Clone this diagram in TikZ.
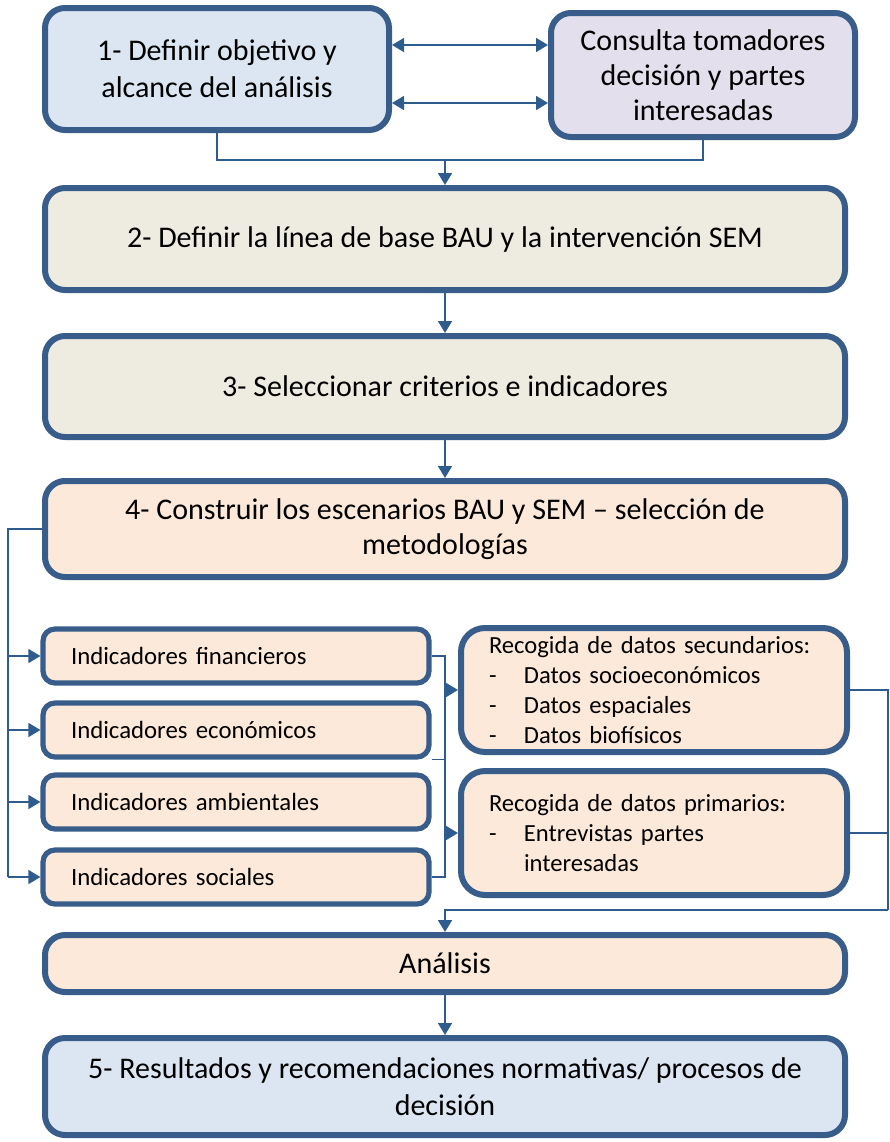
\documentclass[tikz,border=0pt]{standalone}
\usepackage{fontspec}
\setmainfont{Carlito}
\usepackage{tikz}
\usetikzlibrary{arrows.meta, positioning}

\definecolor{borde}{HTML}{385D8A}
\definecolor{linea}{HTML}{2E5C8E}
\definecolor{azul}{HTML}{DCE6F2}
\definecolor{lila}{HTML}{E4DFEC}
\definecolor{oliva}{HTML}{EEECE1}
\definecolor{salmon}{HTML}{FDE9D9}

\begin{document}
\begin{tikzpicture}[x=0.5pt, y=-0.5pt,
    caja/.style={draw=borde, line width=3pt, rounded corners=10pt, align=center,
      font=\fontsize{15}{18.5}\selectfont, inner sep=2pt},
    indic/.style={draw=borde, line width=2.6pt, rounded corners=6pt, fill=salmon,
      align=left, text width=165pt, inner xsep=14pt, minimum height=27pt,
      font=\fontsize{12.4}{15}\selectfont},
    datos/.style={draw=borde, line width=3pt, rounded corners=12pt, fill=salmon,
      align=left, text width=165pt, inner xsep=14pt, minimum height=62pt,
      font=\fontsize{12.3}{15}\selectfont},
    con/.style={draw=linea, line width=0.8pt},
    arr/.style={con, -{Triangle[width=7pt,length=6pt]}},
    dbl/.style={con, {Triangle[width=7pt,length=6pt]}-{Triangle[width=7pt,length=6pt]}}]
  \useasboundingbox (0,0) rectangle (890,1142);

  \node[caja, fill=azul, minimum width=172pt, minimum height=61pt] (def) at (217,69)
    {1- Definir objetivo y\\alcance del análisis};
  \node[caja, fill=lila, minimum width=152pt, minimum height=62pt,
    font=\fontsize{15}{17.5}\selectfont] (cons) at (703,75)
    {Consulta tomadores\\decisión y partes\\interesadas};
  \node[caja, fill=oliva, minimum width=400pt, minimum height=51pt] (base) at (445,239)
    {2- Definir la línea de base BAU y la intervención SEM};
  \node[caja, fill=oliva, minimum width=400pt, minimum height=50.5pt] (crit) at (445,386.5)
    {3- Seleccionar criterios e indicadores};
  \node[caja, fill=salmon, minimum width=400pt, minimum height=48pt,
    font=\fontsize{15}{17.5}\selectfont] (esc) at (445,529)
    {4- Construir los escenarios BAU y SEM -- selección de\\metodologías};

  \node[indic] (fin) at (236,656) {Indicadores financieros};
  \node[indic] (eco) at (236,730) {Indicadores económicos};
  \node[indic] (amb) at (236,802) {Indicadores ambientales};
  \node[indic] (soc) at (236,877) {Indicadores sociales};

  \node[datos] (sec) at (654,690) {Recogida de datos secundarios:\\
    \makebox[17.5pt][l]{-}Datos socioeconómicos\\
    \makebox[17.5pt][l]{-}Datos espaciales\\
    \makebox[17.5pt][l]{-}Datos biofísicos};
  \node[datos] (prim) at (654,833) {Recogida de datos primarios:\\
    \makebox[17.5pt][l]{-}Entrevistas partes\\
    \hspace*{17.5pt}interesadas};

  \node[caja, fill=salmon, minimum width=400pt, minimum height=28.5pt] (ana) at (445,963.5)
    {Análisis};
  \node[caja, fill=azul, minimum width=400pt, minimum height=48.5pt] (res) at (445,1086.5)
    {5- Resultados y recomendaciones normativas/ procesos de\\decisión};

  \coordinate (une) at (445,160);
  \coordinate (izq) at (8,530);
  \coordinate (mid) at (445,657);
  \coordinate (der) at (888,910);

  \draw[dbl] ([yshift=12pt]def.east) -- ([yshift=12pt]def.east -| cons.west);
  \draw[dbl] ([yshift=-17pt]def.east) -- ([yshift=-17pt]def.east -| cons.west);
  \draw[con] (def.south) |- (une) -| (cons.south);
  \draw[arr] (une) -- (base.north);
  \draw[arr] (base.south) -- (crit.north);
  \draw[arr] (crit.south) -- (esc.north);

  \draw[con] (esc.west) -- (izq |- esc.west) -- (izq |- soc.west);
  \foreach \n in {fin, eco, amb, soc}
    \draw[arr] (izq |- \n.west) -- (\n.west);

  \draw[con] (fin.east) -- (fin.east -| mid) -- (mid |- soc.east) -- (soc.east);
  \draw[con] (eco.south east) -- (eco.south east -| mid);
  \draw[arr] (mid |- sec.west) -- (sec.west);
  \draw[arr] (mid |- prim.west) -- (prim.west);

  \draw[con] (sec.east) -| (der);
  \draw[con] (prim.east) -- (prim.east -| der);
  \draw[arr] (der) -| (ana.north);
  \draw[arr] (ana.south) -- (res.north);
\end{tikzpicture}
\end{document}
